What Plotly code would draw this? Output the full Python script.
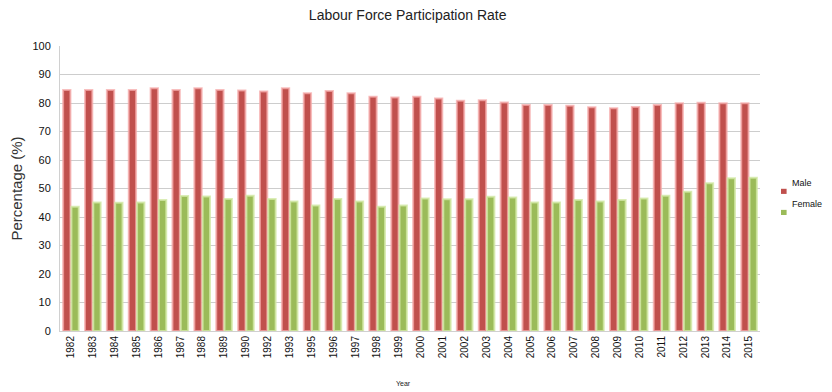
import plotly.graph_objects as go

# Labour force participation rate by sex
years = ["1982", "1983", "1984", "1985", "1986", "1987", "1988", "1989", "1990",
         "1992", "1993", "1995", "1996", "1997", "1998", "1999", "2000", "2001",
         "2002", "2003", "2004", "2005", "2006", "2007", "2008", "2009", "2010",
         "2011", "2012", "2013", "2014", "2015"]
male = [84.6, 84.6, 84.6, 84.6, 85.2, 84.6, 85.2, 84.6, 84.4,
        84.0, 85.2, 83.4, 84.2, 83.4, 82.2, 81.9, 82.2, 81.6,
        80.8, 81.0, 80.2, 79.3, 79.3, 79.0, 78.5, 78.2, 78.6,
        79.3, 79.9, 80.1, 79.9, 79.9]
female = [43.6, 45.1, 45.0, 45.1, 46.0, 47.4, 47.2, 46.3, 47.5,
          46.3, 45.4, 44.0, 46.3, 45.4, 43.6, 44.0, 46.5, 46.2,
          46.2, 47.1, 46.8, 45.1, 45.1, 46.0, 45.4, 46.0, 46.5,
          47.5, 48.9, 51.8, 53.6, 53.8]

series = [("Male", male, "#c0504d", "rgba(245,170,170,0.75)"),
          ("Female", female, "#9bbb59", "rgba(210,232,165,0.8)")]

font_family = "Liberation Sans, Arial, sans-serif"

fig = go.Figure()
for name, vals, color, glow in series:
    fig.add_trace(go.Bar(
        name=name, x=years, y=vals, showlegend=False,
        marker=dict(color=color, line=dict(color=glow, width=2)),
    ))

# Compact legend to the right: label above a small colour square
legend_rows = [(0.518, 0.490), (0.446, 0.416)]
for (name, _, color, _), (ty, sy) in zip(series, legend_rows):
    fig.add_annotation(xref="paper", yref="paper", x=1.043, y=ty,
                       xanchor="left", yanchor="middle", showarrow=False,
                       text=name, font=dict(size=9, color="#111"))
    fig.add_shape(type="rect", xref="paper", yref="paper",
                  x0=1.030, x1=1.038, y0=sy - 0.009, y1=sy + 0.009,
                  fillcolor=color, line=dict(width=0))

# x-axis title placed below the rotated year labels
fig.add_annotation(xref="paper", yref="paper", x=0.49, y=-0.185,
                   xanchor="center", yanchor="middle", showarrow=False,
                   text="Year", font=dict(size=7, color="#222"))

fig.update_layout(
    width=832, height=392,
    margin=dict(l=60, r=72, t=46, b=61),
    paper_bgcolor="white", plot_bgcolor="white",
    barmode="group", bargap=0.24, bargroupgap=0.12,
    title=dict(text="Labour Force Participation Rate", x=0.49, xanchor="center",
               y=0.962, yanchor="middle",
               font=dict(family=font_family, size=14, color="#222")),
    font=dict(family=font_family, color="#222"),
    showlegend=False,
    xaxis=dict(
        type="category", tickangle=-90, showgrid=False,
        tickfont=dict(size=10, color="#111"),
        showline=True, linecolor="#d0d0d0", linewidth=1,
        ticks="", automargin=False,
    ),
    yaxis=dict(
        range=[0, 100], dtick=10,
        tickfont=dict(size=11, color="#111"),
        gridcolor="#cdcdcd", gridwidth=1,
        showline=True, linecolor="#d0d0d0", linewidth=1,
        zeroline=False, ticks="", ticklabelstandoff=6,
        title=dict(text="Percentage (%)", font=dict(size=15, color="#333"), standoff=6),
    ),
)

fig.write_html("out.html")
